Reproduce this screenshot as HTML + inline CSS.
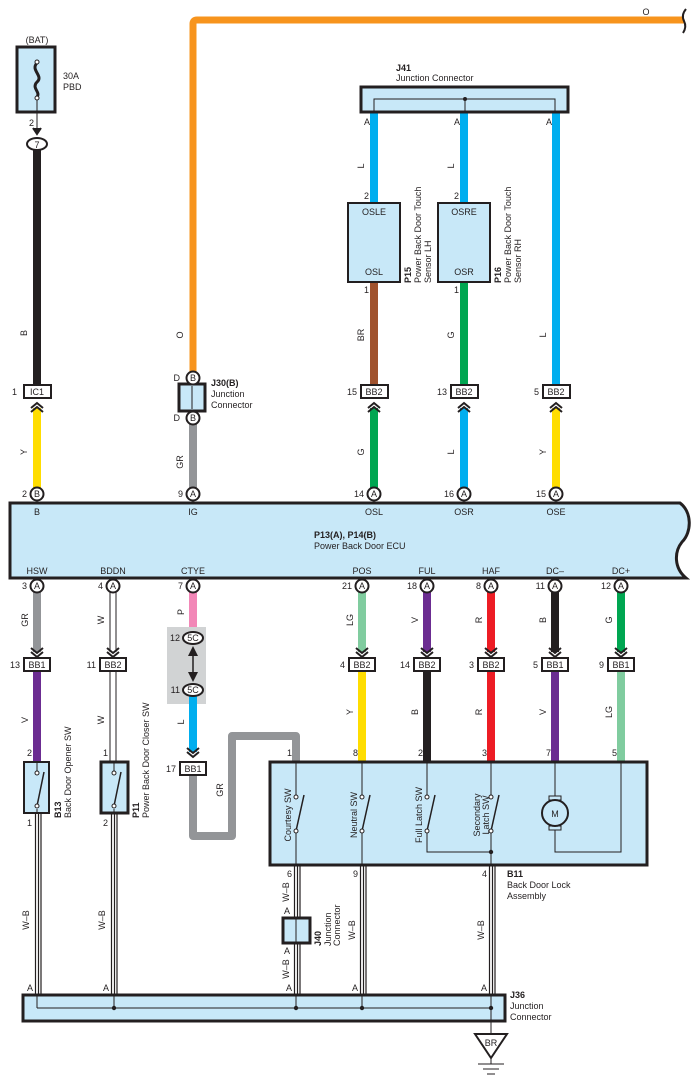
<!DOCTYPE html>
<html><head><meta charset="utf-8"><style>
html,body{margin:0;padding:0;background:#fff}
svg{display:block}
text{font-family:"Liberation Sans",sans-serif;font-size:9px;fill:#231f20}
.b{font-weight:bold}
.m{text-anchor:middle}
.e{text-anchor:end}
</style></head><body>
<svg width="698" height="1087" viewBox="0 0 698 1087" xmlns="http://www.w3.org/2000/svg">
<defs>
<g id="chd"><polyline points="-6,-8 0,-3 6,-8" fill="none" stroke="#231f20" stroke-width="2"/><polyline points="-6,-4 0,1 6,-4" fill="none" stroke="#231f20" stroke-width="2"/></g>
<g id="chu"><polyline points="-6,8 0,3 6,8" fill="none" stroke="#231f20" stroke-width="2"/><polyline points="-6,4 0,-1 6,4" fill="none" stroke="#231f20" stroke-width="2"/></g>
</defs>

<!-- orange top wire -->
<path d="M193 372 V24 Q193 20 197 20 H684" fill="none" stroke="#f7941d" stroke-width="7"/>
<path d="M686 9 Q681 15 684 21 Q687 27 683 33" fill="none" stroke="#231f20" stroke-width="2"/>
<text x="646" y="15" class="m">O</text>
<text x="183" y="335" class="m" transform="rotate(-90 183 335)">O</text>

<!-- fuse -->
<text x="37" y="43" class="m">(BAT)</text>
<rect x="17" y="47" width="38" height="65" fill="#c8e8f8" stroke="#231f20" stroke-width="3"/>
<path d="M37 63 C30 70 44 76 37 82 C31 88 41 92 37 97" fill="none" stroke="#231f20" stroke-width="3"/>
<circle cx="37" cy="62" r="2" fill="#fff" stroke="#231f20"/><circle cx="37" cy="98" r="2" fill="#fff" stroke="#231f20"/>
<text x="63" y="79">30A</text><text x="63" y="90">PBD</text>
<line x1="37" y1="100" x2="37" y2="134" stroke="#231f20"/>
<polyline points="33,128 37,134 41,128" fill="#231f20" stroke="#231f20" stroke-width="2"/>
<text x="29" y="126">2</text>
<line x1="37" y1="148" x2="37" y2="385" stroke="#231f20" stroke-width="8"/>
<ellipse cx="37" cy="144" rx="10" ry="6" fill="#fff" stroke="#231f20" stroke-width="2"/>
<text x="37" y="148" class="m">7</text>
<text x="27" y="333" class="m" transform="rotate(-90 27 333)">B</text>
<rect x="24" y="385" width="27" height="13" fill="#fff" stroke="#231f20" stroke-width="2"/>
<text x="37" y="395" class="m">IC1</text><text x="17" y="395" class="e">1</text>
<line x1="37" y1="408" x2="37" y2="488" stroke="#ffdd00" stroke-width="8"/>
<use href="#chu" x="37" y="404"/>
<text x="27" y="452" class="m" transform="rotate(-90 27 452)">Y</text>

<!-- J30 -->
<rect x="179" y="384" width="26" height="27" fill="#c8e8f8" stroke="#231f20" stroke-width="3"/>
<line x1="192" y1="386" x2="192" y2="409" stroke="#231f20"/>
<line x1="193" y1="424" x2="193" y2="488" stroke="#939598" stroke-width="8"/>
<circle cx="193" cy="378" r="6.5" fill="#fff" stroke="#231f20" stroke-width="2"/><text x="193" y="381" class="m">B</text>
<circle cx="193" cy="418" r="6.5" fill="#fff" stroke="#231f20" stroke-width="2"/><text x="193" y="421" class="m">B</text>
<text x="180" y="381" class="e">D</text><text x="180" y="421" class="e">D</text>
<text x="211" y="386" class="b">J30(B)</text><text x="211" y="397">Junction</text><text x="211" y="408">Connector</text>
<text x="183" y="462" class="m" transform="rotate(-90 183 462)">GR</text>

<!-- J41 -->
<text x="396" y="71" class="b">J41</text><text x="396" y="81">Junction Connector</text>
<line x1="374" y1="112" x2="374" y2="204" stroke="#00aeef" stroke-width="8"/>
<line x1="464" y1="112" x2="464" y2="204" stroke="#00aeef" stroke-width="8"/>
<line x1="556" y1="112" x2="556" y2="385" stroke="#00aeef" stroke-width="8"/>
<rect x="361" y="87" width="207" height="25" fill="#c8e8f8" stroke="#231f20" stroke-width="3"/>
<polyline points="374,112 374,99 555,99 555,112" fill="none" stroke="#231f20"/>
<line x1="465" y1="99" x2="465" y2="112" stroke="#231f20"/><circle cx="465" cy="99" r="2" fill="#231f20"/>
<text x="370" y="125" class="e">A</text><text x="460" y="125" class="e">A</text><text x="552" y="125" class="e">A</text>
<text x="364" y="166" class="m" transform="rotate(-90 364 166)">L</text>
<text x="454" y="166" class="m" transform="rotate(-90 454 166)">L</text>
<text x="369" y="199" class="e">2</text><text x="459" y="199" class="e">2</text>

<!-- sensors -->
<line x1="374" y1="282" x2="374" y2="385" stroke="#a0522d" stroke-width="8"/>
<line x1="464" y1="282" x2="464" y2="385" stroke="#00a651" stroke-width="8"/>
<rect x="348" y="203" width="52" height="79" fill="#c8e8f8" stroke="#231f20" stroke-width="2"/>
<rect x="438" y="203" width="52" height="79" fill="#c8e8f8" stroke="#231f20" stroke-width="2"/>
<text x="374" y="215" class="m">OSLE</text><text x="374" y="275" class="m">OSL</text>
<text x="464" y="215" class="m">OSRE</text><text x="464" y="275" class="m">OSR</text>
<text x="369" y="293" class="e">1</text><text x="459" y="293" class="e">1</text>
<text x="411" y="283" class="b" transform="rotate(-90 411 283)">P15</text>
<text x="421" y="283" transform="rotate(-90 421 283)">Power Back Door Touch</text>
<text x="431" y="283" transform="rotate(-90 431 283)">Sensor LH</text>
<text x="501" y="283" class="b" transform="rotate(-90 501 283)">P16</text>
<text x="511" y="283" transform="rotate(-90 511 283)">Power Back Door Touch</text>
<text x="521" y="283" transform="rotate(-90 521 283)">Sensor RH</text>
<text x="364" y="335" class="m" transform="rotate(-90 364 335)">BR</text>
<text x="454" y="335" class="m" transform="rotate(-90 454 335)">G</text>
<text x="546" y="335" class="m" transform="rotate(-90 546 335)">L</text>
<!-- BB2 top row -->
<g>
<rect x="361" y="385" width="27" height="13" fill="#fff" stroke="#231f20" stroke-width="2"/><text x="374" y="395" class="m">BB2</text><text x="357" y="395" class="e">15</text>
<rect x="451" y="385" width="27" height="13" fill="#fff" stroke="#231f20" stroke-width="2"/><text x="464" y="395" class="m">BB2</text><text x="447" y="395" class="e">13</text>
<rect x="543" y="385" width="27" height="13" fill="#fff" stroke="#231f20" stroke-width="2"/><text x="556" y="395" class="m">BB2</text><text x="539" y="395" class="e">5</text>
</g>
<line x1="374" y1="408" x2="374" y2="488" stroke="#00a651" stroke-width="8"/>
<line x1="464" y1="408" x2="464" y2="488" stroke="#00aeef" stroke-width="8"/>
<line x1="556" y1="408" x2="556" y2="488" stroke="#ffdd00" stroke-width="8"/>
<use href="#chu" x="374" y="404"/><use href="#chu" x="464" y="404"/><use href="#chu" x="556" y="404"/>
<text x="364" y="452" class="m" transform="rotate(-90 364 452)">G</text>
<text x="454" y="452" class="m" transform="rotate(-90 454 452)">L</text>
<text x="546" y="452" class="m" transform="rotate(-90 546 452)">Y</text>

<!-- top ECU circles -->
<g>
<circle cx="37" cy="494" r="6.5" fill="#fff" stroke="#231f20" stroke-width="2"/><text x="37" y="497" class="m">B</text><text x="27" y="497" class="e">2</text>
<circle cx="193" cy="494" r="6.5" fill="#fff" stroke="#231f20" stroke-width="2"/><text x="193" y="497" class="m">A</text><text x="183" y="497" class="e">9</text>
<circle cx="374" cy="494" r="6.5" fill="#fff" stroke="#231f20" stroke-width="2"/><text x="374" y="497" class="m">A</text><text x="364" y="497" class="e">14</text>
<circle cx="464" cy="494" r="6.5" fill="#fff" stroke="#231f20" stroke-width="2"/><text x="464" y="497" class="m">A</text><text x="454" y="497" class="e">16</text>
<circle cx="556" cy="494" r="6.5" fill="#fff" stroke="#231f20" stroke-width="2"/><text x="556" y="497" class="m">A</text><text x="546" y="497" class="e">15</text>
</g>

<!-- ECU -->
<path d="M10 503 H680 C692 512 692 532 682 542 C674 552 674 568 686 578 H10 Z" fill="#c8e8f8" stroke="#231f20" stroke-width="3"/>
<text x="37" y="515" class="m">B</text><text x="193" y="515" class="m">IG</text><text x="374" y="515" class="m">OSL</text><text x="464" y="515" class="m">OSR</text><text x="556" y="515" class="m">OSE</text>
<text x="314" y="538" class="b">P13(A), P14(B)</text><text x="314" y="549">Power Back Door ECU</text>
<text x="37" y="574" class="m">HSW</text><text x="113" y="574" class="m">BDDN</text><text x="193" y="574" class="m">CTYE</text><text x="362" y="574" class="m">POS</text><text x="427" y="574" class="m">FUL</text><text x="491" y="574" class="m">HAF</text><text x="555" y="574" class="m">DC–</text><text x="621" y="574" class="m">DC+</text>

<!-- lower wires upper segment -->
<line x1="37" y1="592" x2="37" y2="652" stroke="#939598" stroke-width="8"/>
<line x1="113" y1="592" x2="113" y2="652" stroke="#231f20" stroke-width="7"/><line x1="113" y1="592" x2="113" y2="652" stroke="#fff" stroke-width="5"/>
<line x1="193" y1="592" x2="193" y2="632" stroke="#f287b7" stroke-width="8"/>
<line x1="362" y1="592" x2="362" y2="652" stroke="#80cc9f" stroke-width="8"/>
<line x1="427" y1="592" x2="427" y2="652" stroke="#6b2c91" stroke-width="8"/>
<line x1="491" y1="592" x2="491" y2="652" stroke="#ed1c24" stroke-width="8"/>
<line x1="555" y1="592" x2="555" y2="652" stroke="#231f20" stroke-width="8"/>
<line x1="621" y1="592" x2="621" y2="652" stroke="#00a651" stroke-width="8"/>
<g>
<circle cx="37" cy="586" r="6.5" fill="#fff" stroke="#231f20" stroke-width="2"/><text x="37" y="589" class="m">A</text><text x="27" y="589" class="e">3</text>
<circle cx="113" cy="586" r="6.5" fill="#fff" stroke="#231f20" stroke-width="2"/><text x="113" y="589" class="m">A</text><text x="103" y="589" class="e">4</text>
<circle cx="193" cy="586" r="6.5" fill="#fff" stroke="#231f20" stroke-width="2"/><text x="193" y="589" class="m">A</text><text x="183" y="589" class="e">7</text>
<circle cx="362" cy="586" r="6.5" fill="#fff" stroke="#231f20" stroke-width="2"/><text x="362" y="589" class="m">A</text><text x="352" y="589" class="e">21</text>
<circle cx="427" cy="586" r="6.5" fill="#fff" stroke="#231f20" stroke-width="2"/><text x="427" y="589" class="m">A</text><text x="417" y="589" class="e">18</text>
<circle cx="491" cy="586" r="6.5" fill="#fff" stroke="#231f20" stroke-width="2"/><text x="491" y="589" class="m">A</text><text x="481" y="589" class="e">8</text>
<circle cx="555" cy="586" r="6.5" fill="#fff" stroke="#231f20" stroke-width="2"/><text x="555" y="589" class="m">A</text><text x="545" y="589" class="e">11</text>
<circle cx="621" cy="586" r="6.5" fill="#fff" stroke="#231f20" stroke-width="2"/><text x="621" y="589" class="m">A</text><text x="611" y="589" class="e">12</text>
</g>
<text x="28" y="620" class="m" transform="rotate(-90 28 620)">GR</text>
<text x="104" y="620" class="m" transform="rotate(-90 104 620)">W</text>
<text x="184" y="612" class="m" transform="rotate(-90 184 612)">P</text>
<text x="353" y="620" class="m" transform="rotate(-90 353 620)">LG</text>
<text x="418" y="620" class="m" transform="rotate(-90 418 620)">V</text>
<text x="482" y="620" class="m" transform="rotate(-90 482 620)">R</text>
<text x="546" y="620" class="m" transform="rotate(-90 546 620)">B</text>
<text x="612" y="620" class="m" transform="rotate(-90 612 620)">G</text>

<use href="#chd" x="37" y="656"/><use href="#chd" x="113" y="656"/><use href="#chd" x="362" y="656"/><use href="#chd" x="427" y="656"/><use href="#chd" x="491" y="656"/><use href="#chd" x="555" y="656"/><use href="#chd" x="621" y="656"/>

<!-- lower wires lower segment -->
<line x1="37" y1="671" x2="37" y2="763" stroke="#6b2c91" stroke-width="8"/>
<line x1="113" y1="671" x2="113" y2="763" stroke="#231f20" stroke-width="7"/><line x1="113" y1="671" x2="113" y2="763" stroke="#fff" stroke-width="5"/>
<line x1="362" y1="671" x2="362" y2="762" stroke="#ffdd00" stroke-width="8"/>
<line x1="427" y1="671" x2="427" y2="762" stroke="#231f20" stroke-width="8"/>
<line x1="491" y1="671" x2="491" y2="762" stroke="#ed1c24" stroke-width="8"/>
<line x1="555" y1="671" x2="555" y2="762" stroke="#6b2c91" stroke-width="8"/>
<line x1="621" y1="671" x2="621" y2="762" stroke="#80cc9f" stroke-width="8"/>
<g>
<rect x="24" y="658" width="26" height="13" fill="#fff" stroke="#231f20" stroke-width="2"/><text x="37" y="668" class="m">BB1</text><text x="20" y="668" class="e">13</text>
<rect x="100" y="658" width="26" height="13" fill="#fff" stroke="#231f20" stroke-width="2"/><text x="113" y="668" class="m">BB2</text><text x="96" y="668" class="e">11</text>
<rect x="349" y="658" width="26" height="13" fill="#fff" stroke="#231f20" stroke-width="2"/><text x="362" y="668" class="m">BB2</text><text x="345" y="668" class="e">4</text>
<rect x="414" y="658" width="26" height="13" fill="#fff" stroke="#231f20" stroke-width="2"/><text x="427" y="668" class="m">BB2</text><text x="410" y="668" class="e">14</text>
<rect x="478" y="658" width="26" height="13" fill="#fff" stroke="#231f20" stroke-width="2"/><text x="491" y="668" class="m">BB2</text><text x="474" y="668" class="e">3</text>
<rect x="542" y="658" width="26" height="13" fill="#fff" stroke="#231f20" stroke-width="2"/><text x="555" y="668" class="m">BB1</text><text x="538" y="668" class="e">5</text>
<rect x="608" y="658" width="26" height="13" fill="#fff" stroke="#231f20" stroke-width="2"/><text x="621" y="668" class="m">BB1</text><text x="604" y="668" class="e">9</text>
</g>
<text x="28" y="720" class="m" transform="rotate(-90 28 720)">V</text>
<text x="104" y="720" class="m" transform="rotate(-90 104 720)">W</text>
<text x="353" y="712" class="m" transform="rotate(-90 353 712)">Y</text>
<text x="418" y="712" class="m" transform="rotate(-90 418 712)">B</text>
<text x="482" y="712" class="m" transform="rotate(-90 482 712)">R</text>
<text x="546" y="712" class="m" transform="rotate(-90 546 712)">V</text>
<text x="612" y="712" class="m" transform="rotate(-90 612 712)">LG</text>

<!-- CTYE 5C -->
<rect x="167" y="627" width="39" height="77" fill="#d1d3d4"/>
<line x1="193" y1="696" x2="193" y2="752" stroke="#00aeef" stroke-width="8"/>
<ellipse cx="193" cy="638" rx="10" ry="6" fill="#fff" stroke="#231f20" stroke-width="2"/><text x="193" y="641" class="m">5C</text><text x="180" y="641" class="e">12</text>
<ellipse cx="193" cy="690" rx="10" ry="6" fill="#fff" stroke="#231f20" stroke-width="2"/><text x="193" y="693" class="m">5C</text><text x="180" y="693" class="e">11</text>
<line x1="193" y1="648" x2="193" y2="680" stroke="#231f20" stroke-width="1.5"/>
<polygon points="188,656 193,646 198,656" fill="#231f20"/><polygon points="188,672 193,682 198,672" fill="#231f20"/>
<text x="184" y="722" class="m" transform="rotate(-90 184 722)">L</text>
<use href="#chd" x="193" y="756"/>
<path d="M193 775 V836 H232 V736 H296 V762" fill="none" stroke="#939598" stroke-width="8" stroke-linejoin="round"/>
<rect x="180" y="762" width="26" height="13" fill="#fff" stroke="#231f20" stroke-width="2"/><text x="193" y="772" class="m">BB1</text><text x="176" y="772" class="e">17</text>
<text x="223" y="790" class="m" transform="rotate(-90 223 790)">GR</text>

<!-- B13 & P11 -->
<g stroke="#231f20" fill="none">
<line x1="35.5" y1="813" x2="35.5" y2="998" stroke-width="1.2"/><line x1="38.5" y1="813" x2="38.5" y2="998" stroke-width="1.2"/><line x1="41" y1="813" x2="41" y2="998" stroke-width="1.2"/>
<line x1="111.5" y1="813" x2="111.5" y2="998" stroke-width="1.2"/><line x1="114.5" y1="813" x2="114.5" y2="998" stroke-width="1.2"/><line x1="117" y1="813" x2="117" y2="998" stroke-width="1.2"/>
</g>
<rect x="24" y="762" width="25" height="51" fill="#c8e8f8" stroke="#231f20" stroke-width="2"/>
<rect x="101" y="762" width="27" height="51" fill="#c8e8f8" stroke="#231f20" stroke-width="3"/>
<g stroke="#231f20" fill="#fff">
<line x1="37" y1="763" x2="37" y2="771"/><line x1="37" y1="809" x2="37" y2="813"/><line x1="37" y1="806" x2="44" y2="772" stroke-width="1.5"/>
<circle cx="37" cy="773" r="2"/><circle cx="37" cy="806" r="2"/>
<line x1="114" y1="763" x2="114" y2="771"/><line x1="114" y1="809" x2="114" y2="813"/><line x1="114" y1="806" x2="121" y2="772" stroke-width="1.5"/>
<circle cx="114" cy="773" r="2"/><circle cx="114" cy="806" r="2"/>
</g>
<text x="32" y="756" class="e">2</text><text x="32" y="826" class="e">1</text>
<text x="108" y="756" class="e">1</text><text x="108" y="826" class="e">2</text>
<text x="61" y="818" class="b" transform="rotate(-90 61 818)">B13</text>
<text x="71" y="818" transform="rotate(-90 71 818)">Back Door Opener SW</text>
<text x="139" y="818" class="b" transform="rotate(-90 139 818)">P11</text>
<text x="149" y="818" transform="rotate(-90 149 818)">Power Back Door Closer SW</text>
<text x="29" y="920" class="m" transform="rotate(-90 29 920)">W–B</text>
<text x="105" y="920" class="m" transform="rotate(-90 105 920)">W–B</text>

<!-- lock assembly -->
<g stroke="#231f20" fill="none" stroke-width="1.2">
<line x1="294.5" y1="865" x2="294.5" y2="998"/><line x1="297.5" y1="865" x2="297.5" y2="998"/><line x1="300" y1="865" x2="300" y2="998"/>
<line x1="360.5" y1="865" x2="360.5" y2="998"/><line x1="363.5" y1="865" x2="363.5" y2="998"/><line x1="366" y1="865" x2="366" y2="998"/>
<line x1="489.5" y1="865" x2="489.5" y2="998"/><line x1="492.5" y1="865" x2="492.5" y2="998"/><line x1="495" y1="865" x2="495" y2="998"/>
</g>
<rect x="270" y="762" width="377" height="103" fill="#c8e8f8" stroke="#231f20" stroke-width="3"/>
<g stroke="#231f20" fill="#fff" stroke-width="1">
<line x1="296" y1="763" x2="296" y2="795"/><line x1="296" y1="833" x2="296" y2="864"/><line x1="296" y1="831" x2="304" y2="795" stroke-width="1.5"/>
<circle cx="296" cy="797" r="2"/><circle cx="296" cy="831" r="2"/>
<line x1="362" y1="763" x2="362" y2="795"/><line x1="362" y1="833" x2="362" y2="864"/><line x1="362" y1="831" x2="370" y2="795" stroke-width="1.5"/>
<circle cx="362" cy="797" r="2"/><circle cx="362" cy="831" r="2"/>
<line x1="427" y1="763" x2="427" y2="795"/><polyline points="427,833 427,852 491,852" fill="none"/><line x1="427" y1="831" x2="435" y2="795" stroke-width="1.5"/>
<circle cx="427" cy="797" r="2"/><circle cx="427" cy="831" r="2"/>
<line x1="491" y1="763" x2="491" y2="795"/><line x1="491" y1="833" x2="491" y2="864"/><line x1="491" y1="831" x2="499" y2="795" stroke-width="1.5"/>
<circle cx="491" cy="797" r="2"/><circle cx="491" cy="831" r="2"/>
<line x1="555" y1="763" x2="555" y2="798"/><polyline points="555,829 555,852 621,852 621,763" fill="none"/>
<rect x="549" y="796" width="12" height="4" fill="#c8e8f8"/><rect x="549" y="826" width="12" height="4" fill="#c8e8f8"/>
<circle cx="555" cy="813" r="13" fill="#c8e8f8" stroke-width="2"/>
</g>
<circle cx="491" cy="852" r="2.2" fill="#231f20"/>
<text x="555" y="817" class="m">M</text>
<text x="291" y="815" class="m" transform="rotate(-90 291 815)">Courtesy SW</text>
<text x="357" y="815" class="m" transform="rotate(-90 357 815)">Neutral SW</text>
<text x="422" y="815" class="m" transform="rotate(-90 422 815)">Full Latch SW</text>
<text x="480" y="815" class="m" transform="rotate(-90 480 815)">Secondary</text>
<text x="489" y="815" class="m" transform="rotate(-90 489 815)">Latch SW</text>
<text x="292" y="756" class="e">1</text><text x="358" y="756" class="e">8</text><text x="423" y="756" class="e">2</text><text x="487" y="756" class="e">3</text><text x="551" y="756" class="e">7</text><text x="617" y="756" class="e">5</text>
<text x="292" y="877" class="e">6</text><text x="358" y="877" class="e">9</text><text x="487" y="877" class="e">4</text>
<text x="507" y="877" class="b">B11</text><text x="507" y="888">Back Door Lock</text><text x="507" y="899">Assembly</text>

<!-- J40 -->
<rect x="283" y="918" width="27" height="25" fill="#c8e8f8" stroke="#231f20" stroke-width="3"/>
<line x1="296" y1="919" x2="296" y2="942" stroke="#231f20"/>
<text x="290" y="914" class="e">A</text><text x="290" y="954" class="e">A</text>
<text x="289" y="892" class="m" transform="rotate(-90 289 892)">W–B</text>
<text x="289" y="969" class="m" transform="rotate(-90 289 969)">W–B</text>
<text x="321" y="946" class="b" transform="rotate(-90 321 946)">J40</text>
<text x="331" y="946" transform="rotate(-90 331 946)">Junction</text>
<text x="340" y="946" transform="rotate(-90 340 946)">Connector</text>
<text x="355" y="930" class="m" transform="rotate(-90 355 930)">W–B</text>
<text x="484" y="930" class="m" transform="rotate(-90 484 930)">W–B</text>

<!-- J36 -->
<text x="33" y="991" class="e">A</text><text x="109" y="991" class="e">A</text><text x="292" y="991" class="e">A</text><text x="358" y="991" class="e">A</text><text x="487" y="991" class="e">A</text>
<rect x="23" y="995" width="482" height="26" fill="#c8e8f8" stroke="#231f20" stroke-width="3"/>
<g stroke="#231f20" stroke-width="1">
<line x1="37" y1="996" x2="37" y2="1008"/><line x1="114" y1="996" x2="114" y2="1008"/><line x1="296" y1="996" x2="296" y2="1008"/><line x1="362" y1="996" x2="362" y2="1008"/><line x1="491" y1="996" x2="491" y2="1008"/>
<polyline points="37,1008 491,1008" fill="none"/>
<line x1="491" y1="1008" x2="491" y2="1034"/>
</g>
<circle cx="114" cy="1008" r="2.2" fill="#231f20"/><circle cx="296" cy="1008" r="2.2" fill="#231f20"/><circle cx="362" cy="1008" r="2.2" fill="#231f20"/><circle cx="491" cy="1008" r="2.2" fill="#231f20"/>
<text x="510" y="998" class="b">J36</text><text x="510" y="1009">Junction</text><text x="510" y="1020">Connector</text>
<polygon points="475,1034 507,1034 491,1058" fill="#fff" stroke="#231f20" stroke-width="2"/>
<text x="491" y="1046" class="m">BR</text>
<g stroke="#231f20" stroke-width="1"><line x1="491" y1="1058" x2="491" y2="1064"/><line x1="478" y1="1064" x2="504" y2="1064"/><line x1="483" y1="1069" x2="499" y2="1069"/><line x1="487" y1="1074" x2="495" y2="1074"/></g>
</svg>
</body></html>
